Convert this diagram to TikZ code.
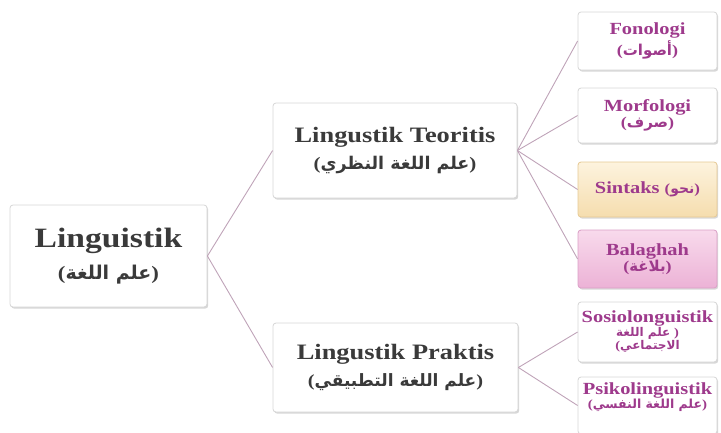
\documentclass[tikz,border=0pt]{standalone}
\usepackage{fontspec}
\setmainfont[FakeStretch=1.2]{Liberation Serif}
\newfontfamily\ar[Script=Arabic]{DejaVu Sans}
\TeXXeTstate=1
\usetikzlibrary{shadows}
\definecolor{txtdark}{HTML}{3A3A3A}
\definecolor{txtpurple}{HTML}{9E3A8C}
\definecolor{linkcol}{HTML}{BFA3B8}
\definecolor{boxborder}{HTML}{D6D6D6}
\definecolor{yeltop}{HTML}{FDF3DE}
\definecolor{yelbot}{HTML}{F5DDAE}
\definecolor{yelborder}{HTML}{E6C994}
\definecolor{pinktop}{HTML}{F8DAEC}
\definecolor{pinkbot}{HTML}{ECB2D6}
\definecolor{pinkborder}{HTML}{DA9FC6}
\tikzset{
  boxbase/.style={draw=boxborder, line width=0.8pt, fill=white, rounded corners=3pt,
    inner sep=0pt, align=center,
    drop shadow={shadow xshift=1.2pt, shadow yshift=-1.6pt, opacity=0.35, fill=black!45}},
  bigbox/.style={boxbase, text=txtdark, font=\bfseries},
  leafbox/.style={boxbase, text=txtpurple, font=\bfseries, minimum width=139pt},
  yelbox/.style={top color=yeltop, bottom color=yelbot, draw=yelborder},
  pinkbox/.style={top color=pinktop, bottom color=pinkbot, draw=pinkborder},
  link/.style={draw=linkcol, line width=0.9pt}
}
\begin{document}
\begin{tikzpicture}[x=1pt, y=-1pt]
\useasboundingbox (0,0) rectangle (721,432);
\clip (0,0) rectangle (721,432);

% level 0
\node[bigbox, minimum width=197pt, minimum height=102pt] (ling) at (108.5,256)
  {\fontsize{28}{30}\selectfont Linguistik\\[11pt]
   \fontsize{19}{22}\selectfont ({\ar\bfseries\beginR علم اللغة\endR})};

% level 1
\node[bigbox, minimum width=244pt, minimum height=95pt] (teo) at (395,150.5)
  {\fontsize{22}{24}\selectfont Lingustik Teoritis\\[8pt]
   \fontsize{17.5}{20}\selectfont ({\ar\bfseries\beginR علم اللغة النظري\endR})};
\node[bigbox, minimum width=245pt, minimum height=89pt] (pra) at (395.5,367.5)
  {\fontsize{22}{24}\selectfont Lingustik Praktis\\[8pt]
   \fontsize{17}{20}\selectfont ({\ar\bfseries\beginR علم اللغة التطبيقي\endR})};

% level 2
\node[leafbox, minimum height=58pt] (fon) at (647.5,41)
  {\fontsize{17}{19}\selectfont Fonologi\\[1pt]
   \fontsize{15}{17}\selectfont ({\ar\bfseries\beginR أصوات\endR})};
\node[leafbox, minimum height=55pt] (mor) at (647.5,115.5)
  {\fontsize{17}{19}\selectfont Morfologi\\[1pt]
   \fontsize{15}{17}\selectfont ({\ar\bfseries\beginR صرف\endR})};
\node[leafbox, yelbox, minimum height=55pt] (sin) at (647.5,189.5)
  {\fontsize{17}{19}\selectfont Sintaks {\fontsize{14}{16}\selectfont({\ar\bfseries\beginR نحو\endR})}};
\node[leafbox, pinkbox, minimum height=58pt] (bal) at (647.5,259)
  {\fontsize{17}{19}\selectfont Balaghah\\
   \fontsize{15}{17}\selectfont ({\ar\bfseries\beginR بلاغة\endR})};
\node[leafbox, minimum height=60pt] (sos) at (647.5,332)
  {\fontsize{17}{18}\selectfont Sosiolonguistik\\
   \fontsize{12}{18}\selectfont {\ar\bfseries\beginR علم اللغة\endR} )\\
   \fontsize{12}{18}\selectfont ({\ar\bfseries\beginR الاجتماعي\endR}};
\node[leafbox, minimum height=57pt] (psi) at (647.5,405.5)
  {\fontsize{17}{19}\selectfont Psikolinguistik\\
   \fontsize{12.5}{15}\selectfont ({\ar\bfseries\beginR علم اللغة النفسي\endR})\\[8pt]};

% connectors
\draw[link] (ling.east) -- (teo.west);
\draw[link] (ling.east) -- (pra.west);
\foreach \c in {fon,mor,sin,bal}{\draw[link] (teo.east) -- (\c.west);}
\foreach \c in {sos,psi}{\draw[link] (pra.east) -- (\c.west);}
\end{tikzpicture}
\end{document}
